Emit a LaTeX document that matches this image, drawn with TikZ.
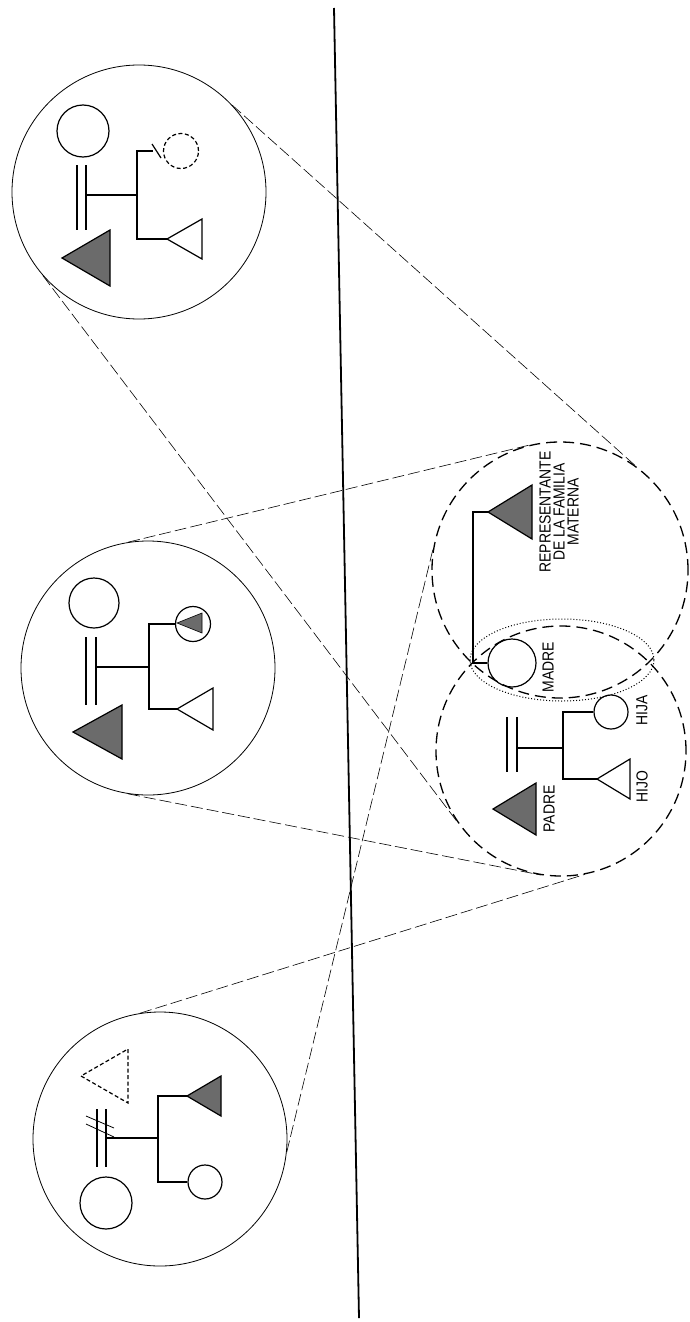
\documentclass[tikz,border=0pt]{standalone}
\usepackage{fontspec}
\newfontfamily\labelfont[FakeStretch=0.87]{Liberation Sans}
\usetikzlibrary{shapes.geometric,calc}

% triangle pointing left: [style]{name of apex}{apex}{depth}{half base}
\newcommand\kintri[5][]{%
  \coordinate (#2) at (#3);
  \draw[kin,#1] (#2) -- ++(#4,#5) -- ++(0,-2*#5) -- cycle;}

\begin{document}
\begin{tikzpicture}[
  x=1pt, y=-1pt,
  lens/.style    ={circle, draw, line width=0.8pt, inner sep=0pt, minimum size=254pt},
  zoomlens/.style={circle, draw, line width=1.3pt, dash pattern=on 11pt off 6pt, inner sep=0pt},
  overlap/.style ={ellipse, draw, line width=1pt, dash pattern=on 1pt off 2pt, inner sep=0pt},
  ray/.style     ={line width=0.6pt, dash pattern=on 12pt off 4pt},
  divide/.style  ={line width=1.8pt},
  kin/.style     ={line width=1.2pt},
  person/.style  ={circle, draw, line width=1.2pt, inner sep=0pt},
  ghost/.style   ={dash pattern=on 4pt off 2.5pt},
  shade/.style   ={fill=black!58},
  lbl/.style     ={font=\labelfont\fontsize{16}{14}\selectfont, rotate=90, inner sep=0pt, align=center},
]
\useasboundingbox (0,0) rectangle (689,1322);

% ---------- Lenses ----------
\node[lens] (c1) at (139,192) {};
\node[lens] (c2) at (148,668) {};
\node[lens] (c3) at (160,1139) {};

\node[zoomlens, minimum size=256pt] (d1) at (560,570) {};
\node[zoomlens, minimum size=250pt] (d2) at (561,751) {};
\node[overlap, minimum width=184pt, minimum height=82pt] (lap) at (562,660) {};

% ---------- Rays ----------
\draw[ray] (c1.43)  -- (d1.54);
\draw[ray] (c1.221) -- (d2.214);
\draw[ray] (c2.99)  -- (d1.103);
\draw[ray] (c2.261) -- (d2.261);
\draw[ray] (c3.99)  -- (d2.281);
\draw[ray] (c3.354) -- (d1.170);

% ---------- Dividing line ----------
\coordinate (divtop) at (334,8);
\coordinate (divbot) at (359,1318);
\draw[divide] (divtop) -- (divbot);

% ---------- Lens 1 ----------
\node[person, minimum size=52pt] (mom1) at (83,131) {};
\draw[kin] (77,165) -- (77,230) (86,165) -- (86,230);
\coordinate (mar1) at (86,195);
\coordinate (sib1) at (137,195);
\coordinate (tick1) at (153,151);
\kintri{son1}{167,239}{35}{20}
\kintri[shade]{dad1}{62,258}{48}{28}
\node[person, ghost, minimum size=35pt] (lost1) at (181,151) {};
\draw[kin] (mar1) -- (sib1);
\draw[kin] (son1) -| (sib1) |- (tick1);
\draw[kin] (152,144) -- (161,158);

% ---------- Lens 2 ----------
\node[person, minimum size=50pt] (mom2) at (94,603) {};
\draw[kin] (86,637) -- (86,705) (96,637) -- (96,705);
\coordinate (mar2) at (96,667);
\coordinate (sib2) at (149,667);
\kintri{son2}{177,709}{36}{21}
\kintri[shade]{dad2}{73,732}{49}{27}
\node[person, minimum size=35pt] (girl2) at (193,624) {};
\kintri[shade, line width=0.6pt]{mark2}{177,623}{25}{10}
\draw[kin] (mar2) -- (sib2);
\draw[kin] (son2) -| (sib2) |- (girl2.west);

% ---------- Lens 3 ----------
\kintri[ghost]{lost3}{81,1076}{47}{27}
\draw[kin] (97,1109) -- (97,1167) (106,1109) -- (106,1167);
\draw[kin, line width=0.8pt] (86,1116) -- (114,1128) (86,1124) -- (114,1137);
\coordinate (mar3) at (106,1138);
\coordinate (sib3) at (158,1138);
\kintri[shade]{gran3}{187,1096}{34}{20}
\node[person, minimum size=34pt] (girl3) at (205,1182) {};
\node[person, minimum size=52pt] (mom3) at (106,1203) {};
\draw[kin] (mar3) -- (sib3);
\draw[kin] (gran3) -| (sib3) |- (girl3.west);

% ---------- Maternal side ----------
\kintri[shade]{rep}{488,512}{44}{27}
\node[person, minimum size=48pt] (madre) at (512,663) {};
\coordinate (link) at (473,663);
\draw[kin] (rep) -| (link) -- (madre.west);
\node[lbl] (lrep) at (559,512) {REPRESENTANTE\\DE LA FAMILIA\\MATERNA};
\node[lbl] (lmadre) at (548,667) {MADRE};

% ---------- Nuclear family ----------
\draw[kin] (507,717) -- (507,772) (517,717) -- (517,772);
\coordinate (mar4) at (517,748);
\coordinate (sib4) at (563,748);
\node[person, minimum size=34pt] (hija) at (611,712) {};
\kintri{hijo}{597,779}{33}{20}
\kintri[shade]{padre}{493,809}{43}{26}
\draw[kin] (mar4) -- (sib4);
\draw[kin] (hijo) -| (sib4) |- (hija.west);
\node[lbl] (lpadre) at (549,809) {PADRE};
\node[lbl] (lhijo) at (642,787) {HIJO};
\node[lbl] (lhija) at (642,710) {HIJA};

\end{tikzpicture}
\end{document}
